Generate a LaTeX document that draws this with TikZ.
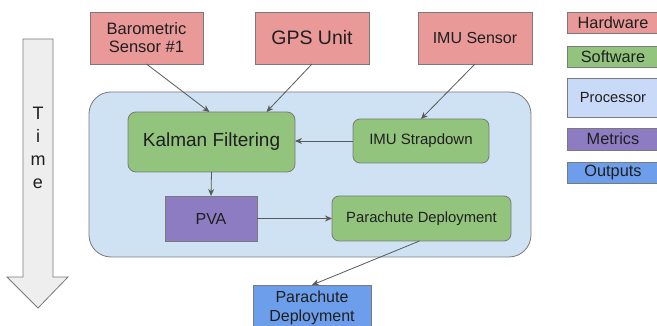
\documentclass[tikz,border=0pt]{standalone}
\usepackage{fontspec}
\setmainfont{Liberation Sans}
\usetikzlibrary{arrows.meta}

\definecolor{hwred}{HTML}{EA9999}
\definecolor{swgreen}{HTML}{93C47D}
\definecolor{cpublue}{HTML}{CFE2F3}
\definecolor{keyblue}{HTML}{C9DAF8}
\definecolor{metpurple}{HTML}{8E7CC3}
\definecolor{outblue}{HTML}{6D9EEB}
\definecolor{timegray}{HTML}{EEEEEE}
\definecolor{edgegray}{HTML}{7A7A7A}
\definecolor{arrowgray}{HTML}{595959}
\definecolor{textblack}{HTML}{1F1F1F}

\begin{document}
\begin{tikzpicture}[x=1pt, y=-1pt]
\useasboundingbox (0,0) rectangle (657,326);

\coordinate (T1) at (23, 39);
\coordinate (T2) at (53, 39);
\coordinate (T3) at (53, 277);
\coordinate (T4) at (68, 277);
\coordinate (T5) at (38, 308);
\coordinate (T6) at (7, 277);
\coordinate (T7) at (23, 277);

\filldraw[fill=timegray, draw=edgegray, line width=0.8pt] (T1) -- (T2) -- (T3) -- (T4) -- (T5) -- (T6) -- (T7) -- cycle;
\node[align=center, text=textblack, font=\fontsize{18}{23}\selectfont] (TimeLabel) at (38, 148) {T\\i\\m\\e};


\tikzset{BoxStyle/.style = {
 shape = rectangle,
 draw = edgegray,
 line width = 0.8pt,
 text = textblack,
 align = center,
 inner sep = 0pt,
 outer sep = 0pt} }

\node[BoxStyle, fill=cpublue, rounded corners=22pt, minimum width=442pt, minimum height=165pt] (CPU) at (310, 174.5) {};

\node[BoxStyle, fill=hwred, minimum width=113pt, minimum height=52pt, font=\fontsize{16.5}{18}\selectfont] (Baro) at (146.5, 38) {Barometric\\Sensor \#1};
\node[BoxStyle, fill=hwred, minimum width=114pt, minimum height=52pt, font=\fontsize{19.5}{22}\selectfont] (GPS) at (312, 38) {GPS Unit};
\node[BoxStyle, fill=hwred, minimum width=114pt, minimum height=52pt, font=\fontsize{16}{18}\selectfont] (IMU) at (475, 38) {IMU Sensor};

\node[BoxStyle, fill=swgreen, rounded corners=8pt, minimum width=167pt, minimum height=60pt, font=\fontsize{19}{21}\selectfont] (Kalman) at (211.5, 142) {Kalman Filtering};
\node[BoxStyle, fill=swgreen, rounded corners=7pt, minimum width=136pt, minimum height=44pt, font=\fontsize{15}{17}\selectfont] (Strap) at (421, 141) {IMU Strapdown};
\node[BoxStyle, fill=metpurple, minimum width=92pt, minimum height=45pt, font=\fontsize{16}{18}\selectfont] (PVA) at (211, 218.5) {PVA};
\node[BoxStyle, fill=swgreen, rounded corners=7pt, minimum width=179pt, minimum height=45pt, font=\fontsize{14.8}{16}\selectfont] (ChuteSW) at (421.5, 218.5) {Parachute Deployment};
\node[BoxStyle, fill=outblue, minimum width=118pt, minimum height=46pt, font=\fontsize{16}{19}\selectfont] (ChuteOut) at (312, 308) {Parachute\\Deployment};

\node[BoxStyle, fill=hwred, minimum width=92pt, minimum height=21pt, font=\fontsize{16.3}{18}\selectfont] (KeyHw) at (613, 22.5) {Hardware};
\node[BoxStyle, fill=swgreen, minimum width=92pt, minimum height=21pt, font=\fontsize{16.3}{18}\selectfont] (KeySw) at (613, 56.5) {Software};
\node[BoxStyle, fill=keyblue, minimum width=92pt, minimum height=39pt, font=\fontsize{14.7}{16}\selectfont] (KeyCpu) at (613, 97.5) {Processor};
\node[BoxStyle, fill=metpurple, minimum width=92pt, minimum height=22pt, font=\fontsize{16.3}{18}\selectfont] (KeyMet) at (613, 139) {Metrics};
\node[BoxStyle, fill=outblue, minimum width=92pt, minimum height=21pt, font=\fontsize{16.3}{18}\selectfont] (KeyOut) at (613, 172.5) {Outputs};


\tikzset{FlowStyle/.style = {draw=arrowgray, line width=0.8pt, -{Stealth[length=7pt, width=6pt]}} }

\draw[FlowStyle] (Baro.south) -- ([xshift=-2pt]Kalman.north);
\draw[FlowStyle] (GPS.south) -- ([xshift=55pt]Kalman.north);
\draw[FlowStyle] (IMU.south) -- (Strap.north);
\draw[FlowStyle] (Strap.west) -- (Kalman.east |- Strap.west);
\draw[FlowStyle] (Kalman.south) -- (PVA.north);
\draw[FlowStyle] (PVA.east) -- (ChuteSW.west);
\draw[FlowStyle] ([xshift=-2pt]ChuteSW.south) -- (ChuteOut.north);

\end{tikzpicture}
\end{document}
